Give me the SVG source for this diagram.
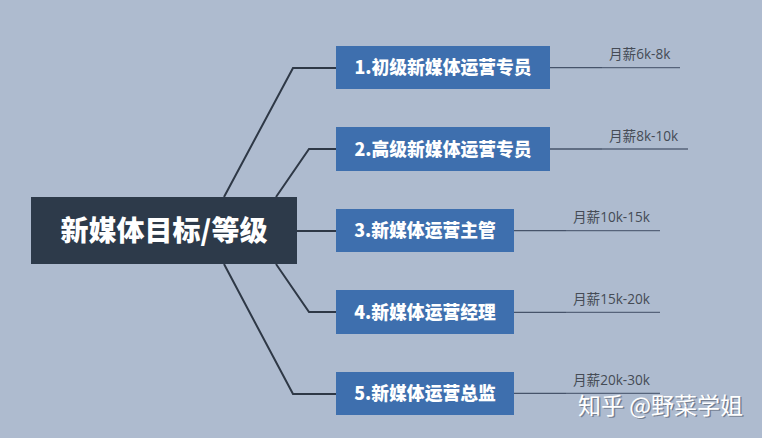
<svg xmlns="http://www.w3.org/2000/svg" width="762" height="438" viewBox="0 0 762 438">
<style>
.bg{fill:#aebbcf}
.root{fill:#2d3a4a}
.roott{fill:#fff;font-family:"Noto Sans CJK SC","Noto Sans",sans-serif;font-weight:900;font-size:28px}
.box{fill:#3e6fae}
.boxt{fill:#fff;font-family:"Noto Sans CJK SC","Noto Sans",sans-serif;font-weight:900;font-size:17.8px}
.conn{fill:none;stroke:#2e3846;stroke-width:2}
.sal{fill:none;stroke:#46536a;stroke-width:1.3}
.sal2{fill:none;stroke:#56637a;stroke-width:1.3}
.salt{fill:#454b55;font-family:"Open Sans","Noto Sans CJK SC",sans-serif;font-size:13.6px}
.wm{font-family:"Noto Sans CJK SC",sans-serif;font-size:23px}
</style>
<rect class="bg" x="0" y="0" width="762" height="438"/>
<g id="connectors">
<polyline class="conn" points="224,197 293,68 336,68"/>
<polyline class="conn" points="276,197 309,149 336,149"/>
<polyline class="conn" points="297,231 336,231"/>
<polyline class="conn" points="276,264 309,312 336,312"/>
<polyline class="conn" points="224,264 293,394 336,394"/>
<line class="sal" x1="550" y1="67.7" x2="602" y2="67.7"/><line class="sal2" x1="602" y1="67.7" x2="680" y2="67.7"/>
<line class="sal" x1="550" y1="149" x2="602" y2="149"/><line class="sal2" x1="602" y1="149" x2="688" y2="149"/>
<line class="sal" x1="514" y1="230.7" x2="566" y2="230.7"/><line class="sal2" x1="566" y1="230.7" x2="660" y2="230.7"/>
<line class="sal" x1="514" y1="312.3" x2="566" y2="312.3"/><line class="sal2" x1="566" y1="312.3" x2="660" y2="312.3"/>
<line class="sal" x1="514" y1="393.3" x2="566" y2="393.3"/><line class="sal2" x1="566" y1="393.3" x2="660" y2="393.3"/>
</g>
<g id="root">
<rect class="root" x="31" y="197" width="266" height="67"/>
<text class="roott" x="164" y="240.5" text-anchor="middle">新媒体目标/等级</text>
</g>
<g id="n1">
<rect class="box" x="336" y="46" width="214" height="43"/>
<text class="boxt" x="443" y="74" text-anchor="middle">1.初级新媒体运营专员</text>
</g>
<g id="n2">
<rect class="box" x="336" y="127" width="214" height="44"/>
<text class="boxt" x="443" y="155.5" text-anchor="middle">2.高级新媒体运营专员</text>
</g>
<g id="n3">
<rect class="box" x="336" y="209" width="178" height="43"/>
<text class="boxt" x="425" y="237" text-anchor="middle">3.新媒体运营主管</text>
</g>
<g id="n4">
<rect class="box" x="336" y="290" width="178" height="44"/>
<text class="boxt" x="425" y="318.5" text-anchor="middle">4.新媒体运营经理</text>
</g>
<g id="n5">
<rect class="box" x="336" y="372" width="178" height="43"/>
<text class="boxt" x="425" y="400" text-anchor="middle">5.新媒体运营总监</text>
</g>
<g id="salaries">
<text class="salt" x="609" y="59">月薪6k-8k</text>
<text class="salt" x="609" y="141">月薪8k-10k</text>
<text class="salt" x="573" y="222">月薪10k-15k</text>
<text class="salt" x="573" y="304">月薪15k-20k</text>
<text class="salt" x="573" y="385">月薪20k-30k</text>
</g>
<g id="watermark">
<text class="wm" x="579.5" y="415" fill="#5f6878" opacity="0.7">知乎 @野菜学姐</text>
<text class="wm" x="578" y="413.5" fill="#ffffff">知乎 @野菜学姐</text>
</g>
</svg>
